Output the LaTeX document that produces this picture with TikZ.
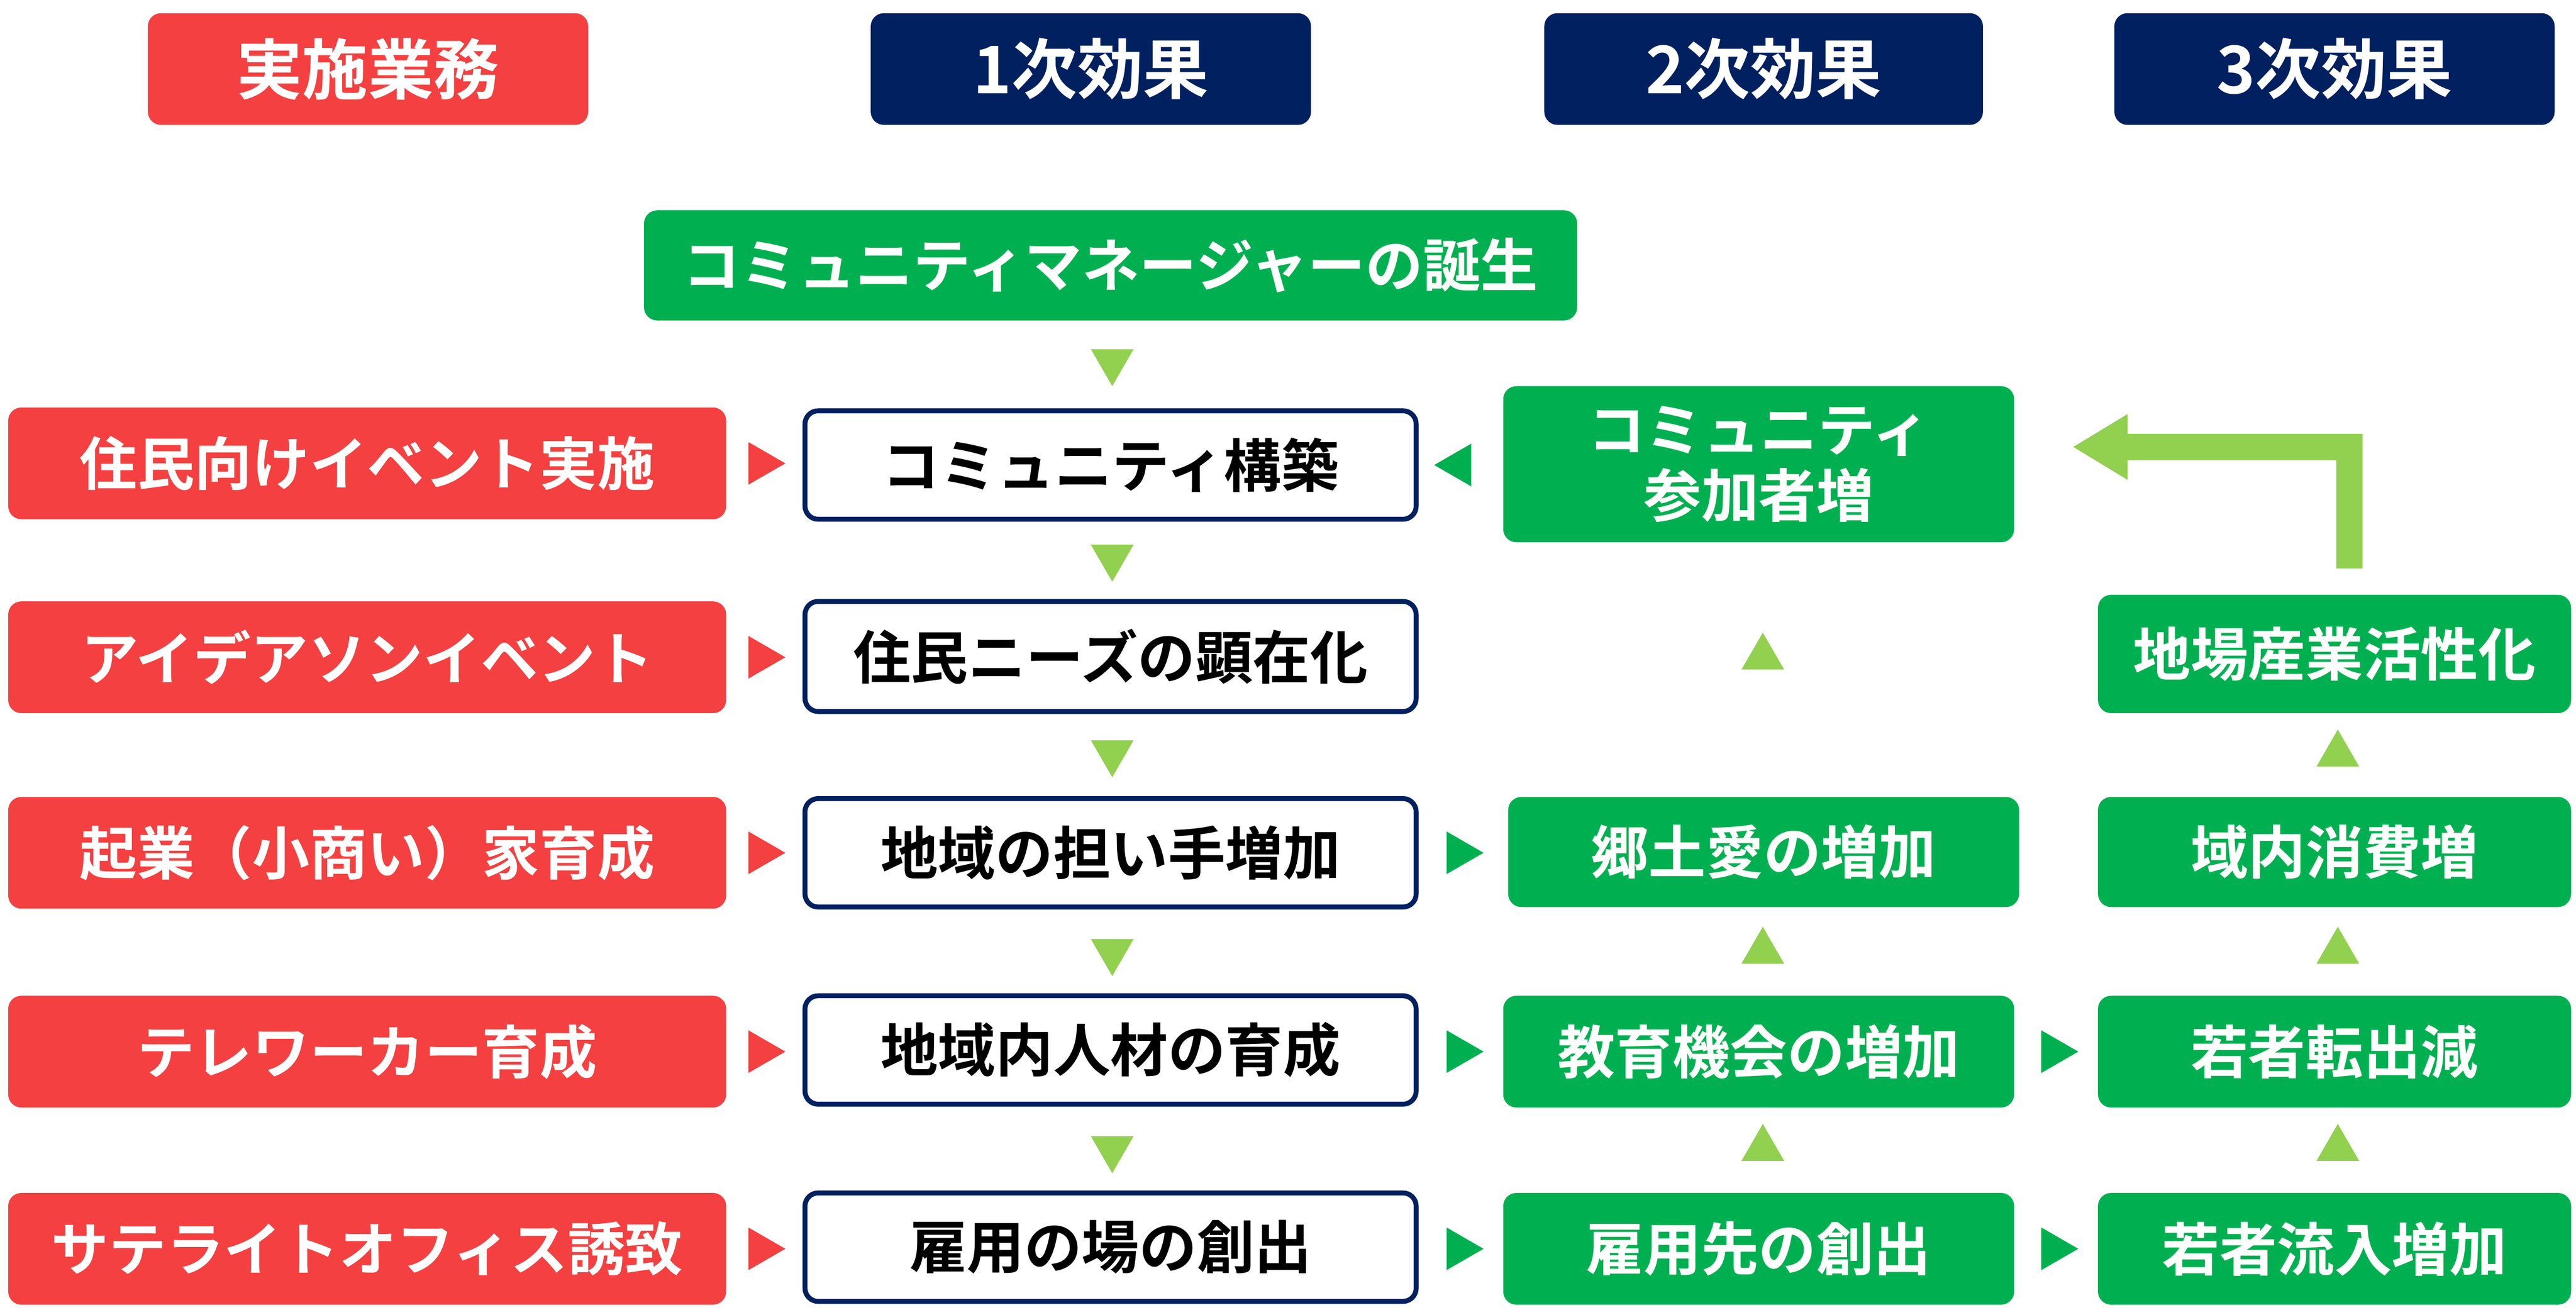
\documentclass[tikz,border=0pt]{standalone}
\usepackage{fontspec}
\newfontfamily\jp{Noto Sans CJK JP}[BoldFont={* Bold}]
\usetikzlibrary{shapes.geometric}
\definecolor{cred}{RGB}{244,64,64}
\definecolor{cnavy}{RGB}{0,32,96}
\definecolor{cgreen}{RGB}{0,176,80}
\definecolor{clight}{RGB}{146,208,80}
\newcommand\bx[7]{\node[base,#6, minimum width={(#4-#2)*0.5pt}, minimum height={(#5-#3)*0.5pt}] (#1) at ({(#2+#4)/2},{(#3+#5)/2}) {#7};}
\newcommand\tri[4]{\node[tri,fill=#4,rotate=#3] (#1) at (#2) {};}
\begin{document}
\begin{tikzpicture}[x=0.5pt,y=-0.5pt,
 base/.style={rounded corners=4pt,inner sep=0pt,align=center,font=\jp\bfseries\fontsize{17.5}{20}\selectfont,text=white},
 hdr/.style={font=\jp\bfseries\fontsize{20}{24}\selectfont},
 redb/.style={fill=cred},
 navyb/.style={fill=cnavy},
 greenb/.style={fill=cgreen},
 whiteb/.style={fill=white,draw=cnavy,line width=1.5pt,text=black},
 tri/.style={regular polygon,regular polygon sides=3,inner sep=0pt,minimum size=15pt}]
\useasboundingbox (0,0) rectangle (1568,800);
\bx{h0}{90}{8}{358}{76}{redb,hdr}{実施業務}
\bx{h1}{530}{8}{798}{76}{navyb,hdr}{1次効果}
\bx{h2}{940}{8}{1207}{76}{navyb,hdr}{2次効果}
\bx{h3}{1287}{8}{1555}{76}{navyb,hdr}{3次効果}
\bx{cm}{392}{128}{960}{195}{greenb}{コミュニティマネージャーの誕生}
\bx{r1}{5}{248}{442}{316}{redb}{住民向けイベント実施}
\bx{r2}{5}{366}{442}{434}{redb}{アイデアソンイベント}
\bx{r3}{5}{485}{442}{553}{redb}{起業（小商い）家育成}
\bx{r4}{5}{606}{442}{674}{redb}{テレワーカー育成}
\bx{r5}{5}{726}{442}{794}{redb}{サテライトオフィス誘致}
\bx{w1}{490}{250}{862}{316}{whiteb}{コミュニティ構築}
\bx{w2}{490}{366}{862}{433}{whiteb}{住民ニーズの顕在化}
\bx{w3}{490}{486}{862}{552}{whiteb}{地域の担い手増加}
\bx{w4}{490}{606}{862}{672}{whiteb}{地域内人材の育成}
\bx{w5}{490}{726}{862}{792}{whiteb}{雇用の場の創出}
\bx{g1}{915}{235}{1226}{330}{greenb}{コミュニティ\\参加者増}
\bx{g3}{918}{485}{1229}{552}{greenb}{郷土愛の増加}
\bx{g4}{915}{606}{1226}{674}{greenb}{教育機会の増加}
\bx{g5}{915}{726}{1226}{794}{greenb}{雇用先の創出}
\bx{k2}{1277}{362}{1565}{434}{greenb}{地場産業活性化}
\bx{k3}{1277}{485}{1565}{552}{greenb}{域内消費増}
\bx{k4}{1277}{606}{1565}{674}{greenb}{若者転出減}
\bx{k5}{1277}{726}{1565}{794}{greenb}{若者流入増加}
\tri{ta1}{463,282}{-90}{cred}
\tri{ta2}{463,400}{-90}{cred}
\tri{ta3}{463,519}{-90}{cred}
\tri{ta4}{463,640}{-90}{cred}
\tri{ta5}{463,760}{-90}{cred}
\tri{td0}{677,220}{180}{clight}
\tri{td1}{677,339}{180}{clight}
\tri{td2}{677,458}{180}{clight}
\tri{td3}{677,579}{180}{clight}
\tri{td4}{677,699}{180}{clight}
\tri{tb1}{888,283}{90}{cgreen}
\tri{tb3}{888,519}{-90}{cgreen}
\tri{tb4}{888,640}{-90}{cgreen}
\tri{tb5}{888,760}{-90}{cgreen}
\tri{tu2}{1073,400}{0}{clight}
\tri{tu3}{1073,579}{0}{clight}
\tri{tu4}{1073,699}{0}{clight}
\tri{tc4}{1250,640}{-90}{cgreen}
\tri{tc5}{1250,760}{-90}{cgreen}
\tri{tv2}{1423,459}{0}{clight}
\tri{tv3}{1423,579}{0}{clight}
\tri{tv4}{1423,699}{0}{clight}
\fill[clight] (1422,346) -- (1438,346) -- (1438,264) -- (1295,264) -- (1295,252) -- (1262,272) -- (1295,292) -- (1295,280) -- (1422,280) -- cycle;
\end{tikzpicture}
\end{document}
